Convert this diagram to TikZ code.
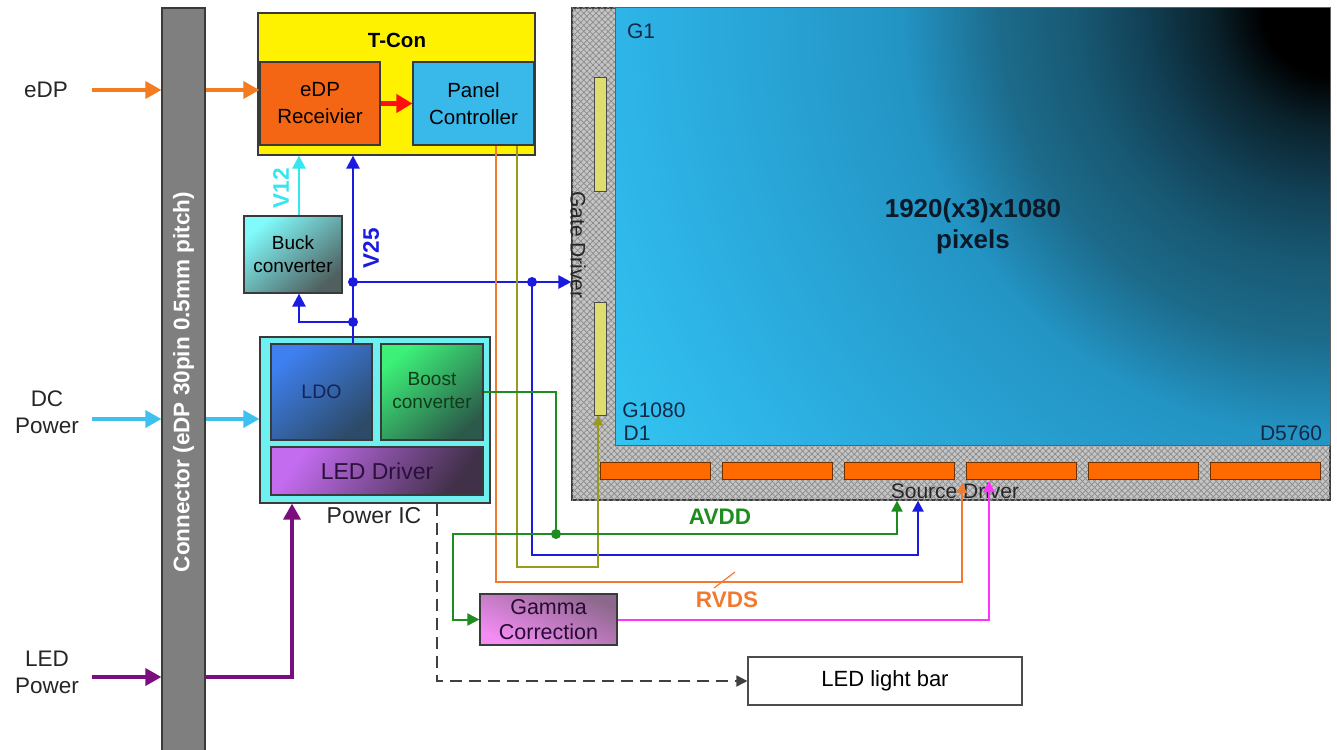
\documentclass[tikz,border=0pt]{standalone}
\usepackage{fontspec}
\setmainfont{Liberation Sans}
\usetikzlibrary{arrows.meta,patterns.meta,calc}
\definecolor{cOrange}{HTML}{F47B20}
\definecolor{cCyan}{HTML}{3EC1EE}
\definecolor{cPurple}{HTML}{7B0E7E}
\definecolor{cRed}{HTML}{FF1010}
\definecolor{cV12}{HTML}{33E6F0}
\definecolor{cBlue}{HTML}{1A1AE0}
\definecolor{cGreen}{HTML}{1E8C1E}
\definecolor{cOlive}{HTML}{9A9A20}
\definecolor{cOrLine}{HTML}{F07A30}
\definecolor{cMag}{HTML}{FF33FF}
\definecolor{cConn}{HTML}{7F7F7F}
\definecolor{cHatchBg}{HTML}{C4C4C4}
\definecolor{cHatchLn}{HTML}{8A8A8A}
\definecolor{cBorder}{HTML}{3A3A3A}
\definecolor{scrA}{HTML}{33C4F0}
\definecolor{scrB}{HTML}{2EB5E8}
\definecolor{scrC}{HTML}{2394C4}
\definecolor{scrD}{HTML}{1C6A8A}
\definecolor{scrD2}{HTML}{185A75}
\definecolor{scrE}{HTML}{124258}
\definecolor{scrF}{HTML}{0A222C}
\definecolor{scrTxt}{HTML}{0A1928}
\definecolor{gateY}{HTML}{DEDE6E}
\definecolor{srcO}{HTML}{FF6A00}
\definecolor{srcOb}{HTML}{6E3200}
\definecolor{lblTxt}{HTML}{142846}
\definecolor{rxFill}{HTML}{F56614}
\definecolor{pcFill}{HTML}{39B8EA}
\definecolor{buckA}{HTML}{80FAFA}
\definecolor{buckB}{HTML}{506060}
\definecolor{picFill}{HTML}{6EF0F0}
\definecolor{ldoA}{HTML}{3E80F0}
\definecolor{ldoB}{HTML}{2D4B69}
\definecolor{ldoT}{HTML}{14235A}
\definecolor{boostA}{HTML}{3CF078}
\definecolor{boostB}{HTML}{2C5A4A}
\definecolor{boostT}{HTML}{0F3C19}
\definecolor{ledA}{HTML}{C46CF0}
\definecolor{ledB}{HTML}{403048}
\definecolor{ledT}{HTML}{2D0F3C}
\definecolor{gamA}{HTML}{8C688C}
\definecolor{gamB}{HTML}{F48CF4}
\definecolor{gamT}{HTML}{280A32}
\pgfdeclareradialshading{scrrad}{\pgfpointorigin}{color(0bp)=(black); color(2bp)=(black); color(3.5bp)=(scrF); color(5.6bp)=(scrE); color(7.6bp)=(scrD2); color(9.7bp)=(scrD); color(12.6bp)=(scrC); color(21bp)=(scrB); color(24.6bp)=(scrA); color(50bp)=(scrA)}
\newcommand\myfs[2]{\fontsize{#1}{#2}\selectfont}
\begin{document}
\begin{tikzpicture}[x=1pt,y=-1pt,
  box/.style={draw=cBorder, line width=1.2pt, inner sep=0pt, align=center, text=black},
  lbl/.style={inner sep=0pt, align=center},
  bigarr/.style={line width=3.5pt, -{Triangle[length=16pt,width=17pt]}},
  sigarr/.style={line width=1.6pt, -{Triangle[length=10pt,width=10pt]}},
  bluearr/.style={line width=2.5pt, cBlue, -{Triangle[length=13pt,width=13pt]}},
  dotst/.style={circle, fill, inner sep=0pt, minimum size=10pt},
  hatch/.style={fill=cHatchBg,
    postaction={pattern={Lines[angle=45,distance=4.3pt,line width=0.7pt]}, pattern color=cHatchLn},
    postaction={pattern={Lines[angle=-45,distance=4.3pt,line width=0.7pt]}, pattern color=cHatchLn}},
  strip/.style={draw=black!70, line width=0.8pt, inner sep=0pt}
]
\useasboundingbox (0,0) rectangle (1337,749);
\fill[white] (0,0) rectangle (1337,749);

% ---------- panel ----------
\node[box, hatch, draw=cBorder, minimum width=758pt, minimum height=492pt] (panel) at (951,254) {};
\node[inner sep=0pt, minimum width=714pt, minimum height=437pt] (screen) at (973,226.5) {};
\begin{scope}
  \clip (screen.south west) rectangle (screen.north east);
  \shade[shading=scrrad] (screen.north east) circle[radius=850pt];
\end{scope}
\draw[cBorder!80, line width=1.2pt] (screen.south west) rectangle (screen.north east);
\node[lbl, font=\myfs{26}{31}\bfseries, text=scrTxt] (scrlbl) at (screen.center) {1920(x3)x1080\\pixels};

\node[strip, fill=gateY, minimum width=12pt, minimum height=114pt] (gs1) at (600,134) {};
\node[strip, fill=gateY, minimum width=12pt, minimum height=113pt] (gs2) at (600,358.5) {};
\foreach \i/\cx in {1/655,2/777,3/899,4/1021,5/1143,6/1265}{
  \node[strip, fill=srcO, draw=srcOb, minimum width=110pt, minimum height=17pt] (ss\i) at (\cx,470.5) {};
}
\node[lbl, font=\myfs{21}{25}, text=lblTxt] (g1) at (641,31) {G1};
\node[lbl, font=\myfs{21}{25}, text=lblTxt] (g1080) at (654,410) {G1080};
\node[lbl, font=\myfs{21}{25}, text=lblTxt] (d1) at (637,433) {D1};
\node[lbl, font=\myfs{21}{25}, text=lblTxt] (d5760) at (1291,433) {D5760};
\node[lbl, font=\myfs{21}{25}, rotate=-90, text=black!85] (gatelbl) at (578,245) {Gate Driver};
\node[lbl, font=\myfs{21}{25}, text=black!85] (srclbl) at (955,491) {Source Driver};

% ---------- connector ----------
\node[box, fill=cConn, draw=cBorder, minimum width=43pt, minimum height=750pt] (conn) at (183.5,383) {};
\node[lbl, rotate=90, text=white, font=\myfs{22.5}{26}\bfseries] (connlbl) at (183.5,382) {Connector (eDP 30pin 0.5mm pitch)};

% ---------- T-Con ----------
\node[box, fill=yellow, draw=cBorder, minimum width=277pt, minimum height=142pt] (tcon) at (396.5,84) {};
\node[lbl, font=\myfs{20.5}{24}\bfseries] (tconlbl) at (397,40) {T-Con};
\node[box, fill=rxFill, minimum width=120pt, minimum height=83pt, font=\myfs{20.5}{27}] (rx) at (320,103.5) {eDP\\Receivier};
\node[box, fill=pcFill, minimum width=121pt, minimum height=83pt, font=\myfs{20.5}{27}] (pc) at (473.5,103.5) {Panel\\Controller};

% ---------- buck ----------
\node[box, top color=buckA, bottom color=buckB, shading angle=40,
  minimum width=98pt, minimum height=77pt, font=\myfs{19}{23}] (buck) at (293,254.5) {Buck\\converter};

% ---------- power IC ----------
\node[box, fill=picFill, minimum width=230pt, minimum height=166pt] (pic) at (375,420) {};
\node[box, top color=ldoA, bottom color=ldoB, shading angle=40,
  minimum width=101pt, minimum height=96pt, font=\myfs{19.5}{23}, text=ldoT] (ldo) at (321.5,392) {LDO};
\node[box, top color=boostA, bottom color=boostB, shading angle=40,
  minimum width=102pt, minimum height=96pt] (boost) at (432,392) {};
\node[lbl, font=\myfs{19}{23}, text=boostT] (boostlbl) at (432,391) {Boost\\converter};
\node[box, top color=ledA, bottom color=ledB, shading angle=55,
  minimum width=212pt, minimum height=48pt, font=\myfs{23}{26}, text=ledT] (led) at (377,471) {LED Driver};
\node[lbl, font=\myfs{23}{26}, text=black!85] (piclbl) at (374,516) {Power IC};

% ---------- gamma / light bar ----------
\node[box, top color=gamA, bottom color=gamB, shading angle=-25,
  minimum width=137pt, minimum height=51pt, font=\myfs{21.5}{25}, text=gamT] (gamma) at (548.5,619.5) {Gamma\\Correction};
\node[box, fill=white, draw=black!70, minimum width=274pt, minimum height=48pt, font=\myfs{22}{25}] (lightbar) at (885,681) {LED light bar};

% ---------- left labels and inputs ----------
\node[lbl, font=\myfs{22.5}{27}, text=black!85] (edplbl) at (46,90) {eDP};
\node[lbl, font=\myfs{22.5}{27}, text=black!85] (dclbl) at (47,412) {DC\\Power};
\node[lbl, font=\myfs{22.5}{27}, text=black!85] (ledlbl) at (47,672) {LED\\Power};
\coordinate (edpin) at (92,90);
\coordinate (dcin) at (92,419);
\coordinate (ledin) at (92,677);
\coordinate (ledx) at (292,0);

\draw[bigarr, cOrange] (edpin) -- (edpin -| conn.west);
\draw[bigarr, cOrange] (edpin -| conn.east) -- (edpin -| rx.west);
\draw[line width=5pt, cRed, -{Triangle[length=16pt,width=18pt]}] (rx.east) -- (pc.west);
\draw[bigarr, cCyan] (dcin) -- (dcin -| conn.west);
\draw[bigarr, cCyan] (dcin -| conn.east) -- (dcin -| pic.west);
\draw[bigarr, cPurple] (ledin) -- (ledin -| conn.west);
\draw[bigarr, cPurple] (ledin -| conn.east) -| (ledx |- pic.south);

% ---------- supplies ----------
\coordinate (v12x) at (299,0);
\coordinate (vx) at (353,0);
\coordinate (j1) at (353,282);
\coordinate (j2) at (353,322);
\coordinate (j3) at (532,282);
\coordinate (bluex) at (918,0);
\coordinate (bluey) at (0,555);
\draw[line width=2.5pt, cV12, -{Triangle[length=13pt,width=13pt]}] (v12x |- buck.north) -- (v12x |- tcon.south);
\node[lbl, rotate=90, font=\myfs{22.5}{26}\bfseries, text=cV12] (v12lbl) at (281,188) {V12};
\draw[bluearr] (vx |- ldo.north) -- (vx |- tcon.south);
\node[lbl, rotate=90, font=\myfs{22.5}{26}\bfseries, text=cBlue] (v25lbl) at (371,248) {V25};
\draw[bluearr] (j1) -- (j1 -| panel.west);
\draw[bluearr] (j2) -| (v12x |- buck.south);
\draw[line width=2.2pt, cBlue, -{Triangle[length=11pt,width=11pt]}] (j3) |- (bluex |- bluey) -- (bluex |- panel.south);
\node[dotst, cBlue] (dot1) at (j1) {};
\node[dotst, cBlue] (dot2) at (j2) {};
\node[dotst, cBlue] (dot3) at (j3) {};

% ---------- signal lines ----------
\coordinate (olx) at (517,0);
\coordinate (olc) at (598,567);
\draw[sigarr, cOlive] (olx |- pc.south) |- (olc) -- (olc |- gs2.south);

\coordinate (orx) at (496,0);
\coordinate (orc) at (962,582);
\coordinate (ortip) at (962,483);
\draw[sigarr, cOrLine] (orx |- pc.south) |- (orc) -- (ortip);
\coordinate (sl1) at (714,588);
\coordinate (sl2) at (735,572);
\draw[line width=1.2pt, cOrLine] (sl1) -- (sl2);
\node[lbl, font=\myfs{22.5}{26}\bfseries, text=cOrLine] (rvds) at (727,600) {RVDS};

\coordinate (gj) at (556,534);
\coordinate (gl) at (453,534);
\coordinate (gr) at (897,534);
\draw[line width=2pt, cGreen] (boost.east) -| (gj);
\draw[line width=2pt, cGreen, -{Triangle[length=12pt,width=12pt]}] (gj) -- (gl) |- (gamma.west);
\draw[line width=2pt, cGreen, -{Triangle[length=11pt,width=11pt]}] (gj) -- (gr) -- (gr |- panel.south);
\node[dotst, cGreen] (dot4) at (gj) {};
\node[lbl, font=\myfs{22.5}{26}\bfseries, text=cGreen] (avdd) at (720,517) {AVDD};

\coordinate (mgtip) at (989,481);
\draw[line width=2pt, cMag, -{Triangle[length=11pt,width=11pt]}] (gamma.east) -| (mgtip);

\coordinate (dx) at (437,0);
\draw[line width=1.8pt, black!75, dash pattern=on 12pt off 7pt, -{Triangle[length=11pt,width=11pt]}] (dx |- pic.south) |- (lightbar.west);
\end{tikzpicture}
\end{document}
